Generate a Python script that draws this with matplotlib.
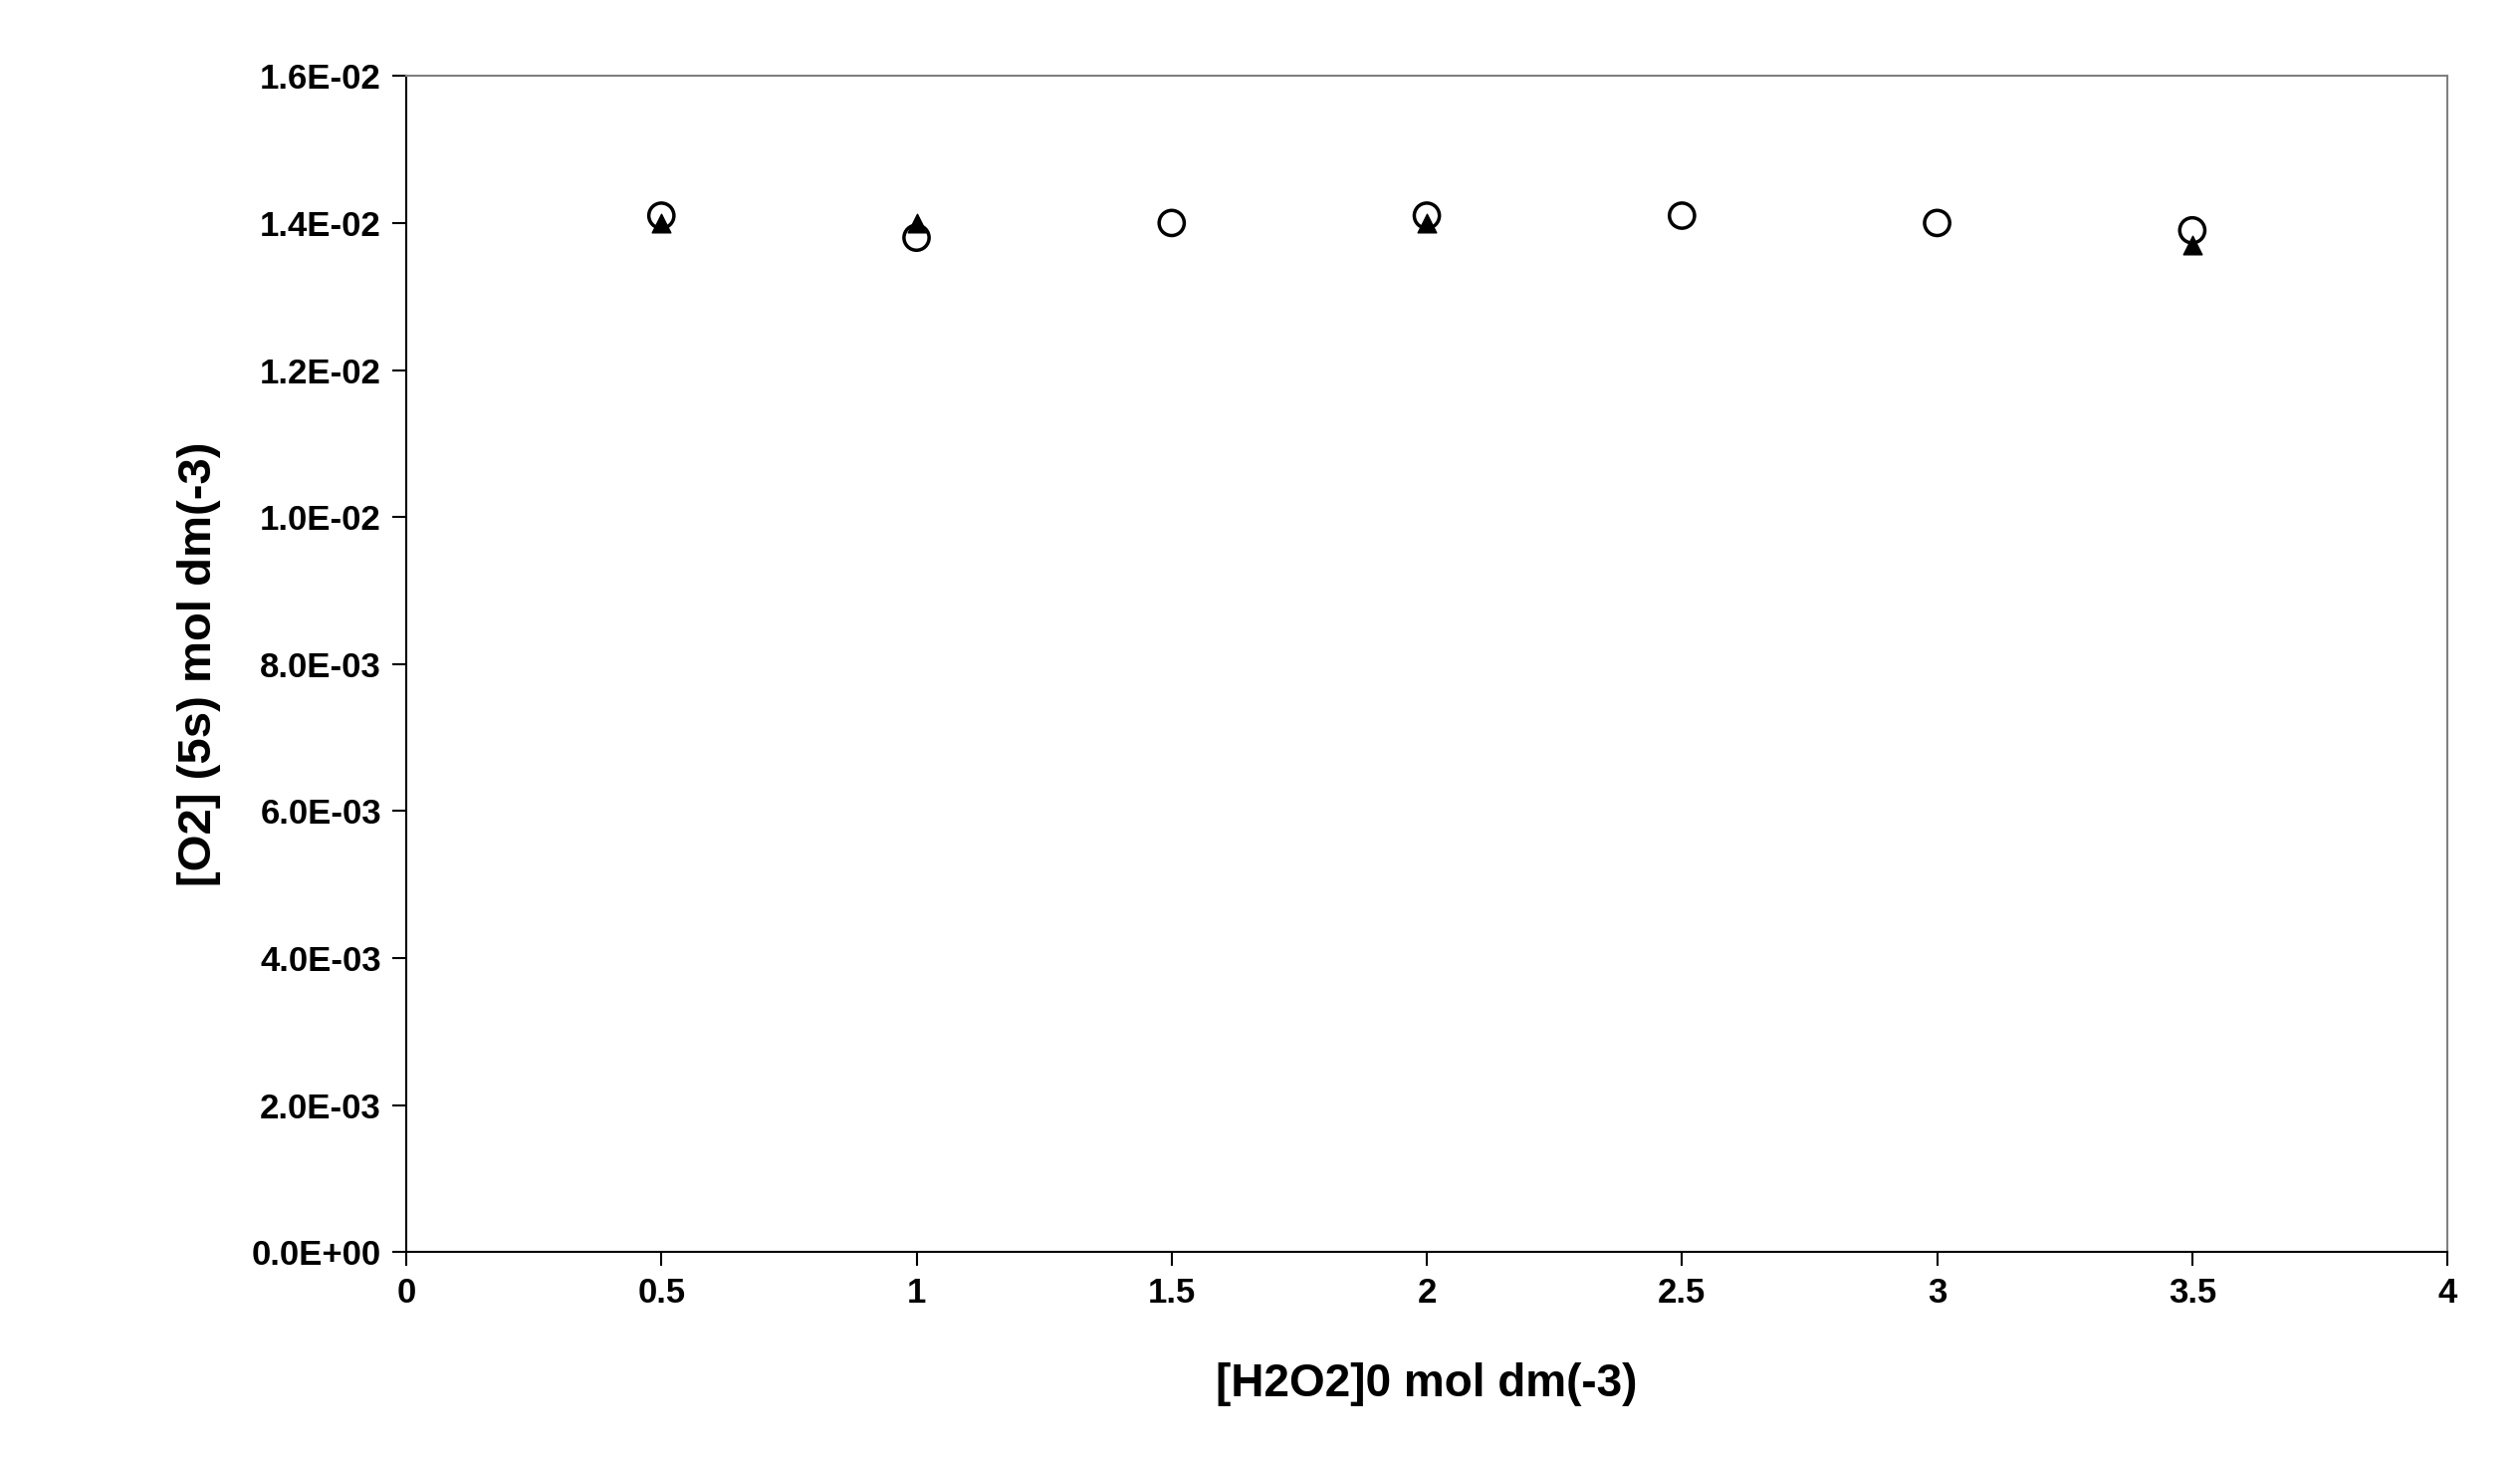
import matplotlib
matplotlib.use("Agg")
import matplotlib.pyplot as plt
from matplotlib.ticker import FuncFormatter

x = [0.5, 1.0, 1.5, 2.0, 2.5, 3.0, 3.5]
tri_x = [0.5, 1.0, 2.0, 3.5]
tri = [0.0140, 0.0140, 0.0140, 0.0137]
circ = [0.0141, 0.0138, 0.0140, 0.0141, 0.0141, 0.0140, 0.0139]

plt.rcParams['font.family'] = ['Liberation Sans', 'DejaVu Sans']
fig = plt.figure(figsize=(25.31, 14.67), dpi=100)
ax = fig.add_axes([0.1612, 0.143, 0.8100, 0.805])
ax.scatter(tri_x, tri, marker='^', s=180, color='black', zorder=2)
ax.scatter(x, circ, marker='o', s=330, facecolors='none', edgecolors='black', linewidths=2.5, zorder=3)
ax.set_xlim(0, 4)
ax.set_ylim(0, 0.016)
ax.set_xticks([0, 0.5, 1, 1.5, 2, 2.5, 3, 3.5, 4])
ax.set_xticklabels(['0', '0.5', '1', '1.5', '2', '2.5', '3', '3.5', '4'])
ax.set_yticks([i * 0.002 for i in range(9)])
ax.yaxis.set_major_formatter(FuncFormatter(lambda v, p: f"{v:.1E}"))
for s in ax.spines.values():
    s.set_color('#808080'); s.set_linewidth(1.5)
ax.spines['left'].set_color('black'); ax.spines['bottom'].set_color('black')
ax.tick_params(length=10, width=1.5, labelsize=25, pad=8)
for t in ax.get_xticklabels() + ax.get_yticklabels():
    t.set_fontweight('bold')
ax.set_xlabel('[H2O2]0 mol dm(-3)', fontsize=33, fontweight='bold', labelpad=38)
ax.set_ylabel('[O2] (5s) mol dm(-3)', fontsize=34, fontweight='bold', labelpad=22)
fig.savefig('out.png', dpi=100)
